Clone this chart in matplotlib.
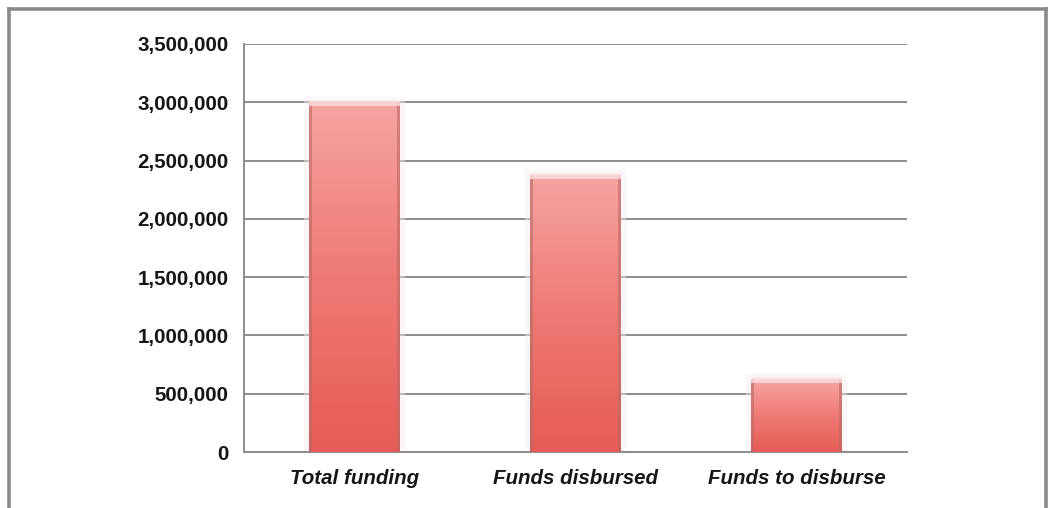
import numpy as np
import matplotlib.pyplot as plt
from matplotlib.colors import LinearSegmentedColormap
from matplotlib.lines import Line2D
from matplotlib.ticker import FuncFormatter

plt.rcParams['font.family'] = ['Liberation Sans', 'DejaVu Sans']

categories = ["Total funding", "Funds disbursed", "Funds to disburse"]
amounts = [3000000, 2375000, 625000]
y_ticks = [0, 500000, 1000000, 1500000, 2000000, 2500000, 3000000, 3500000]

fig = plt.figure(figsize=(10.49, 5.08), dpi=100)
ax = fig.add_axes([0.2326, 0.1102, 0.632, 0.8032])

# outer frame (open at the bottom)
fc = "#8a8a8a"
x0, x1, ytop = 8.5 / 1049, 1045.5 / 1049, 1 - 9 / 508
for xs, ys in [([x0, x0], [-0.1, ytop]), ([x0, x1], [ytop, ytop]), ([x1, x1], [ytop, -0.1])]:
    fig.add_artist(Line2D(xs, ys, transform=fig.transFigure, color=fc, lw=2.6))

ax.set_xlim(-0.5, len(categories) - 0.5)
ax.set_ylim(0, 3500000)
ax.set_yticks(y_ticks)
ax.yaxis.set_major_formatter(FuncFormatter(lambda v, p: f"{int(v):,}"))
ax.set_xticks(range(len(categories)))
ax.set_xticklabels(categories, fontstyle="italic")
for lab in ax.get_xticklabels() + ax.get_yticklabels():
    lab.set_fontweight("bold")
    lab.set_fontsize(14.8)
    lab.set_color("#161616")
ax.tick_params(axis="both", length=0)
ax.tick_params(axis="y", pad=11)
ax.tick_params(axis="x", pad=12)

ax.yaxis.grid(True, color="#8c8c8c", lw=1.4)
ax.set_axisbelow(True)
for side in ["top", "right"]:
    ax.spines[side].set_visible(False)
for side in ["left", "bottom"]:
    ax.spines[side].set_color("#8c8c8c")
    ax.spines[side].set_linewidth(1.4)

cmap = LinearSegmentedColormap.from_list("barfade", ["#e65b55", "#ef7a74", "#f6a4a2"])
grad = np.linspace(0, 1, 256).reshape(-1, 1)
w = 0.41
for i, v in enumerate(amounts):
    left, right = i - w / 2, i + w / 2
    # faint glow around the bar
    ax.fill_between([left - 0.025, right + 0.025], 0, v + 45000, color="#fbecec", alpha=0.45, zorder=2, lw=0)
    ax.imshow(grad, cmap=cmap, origin="lower", aspect="auto",
              extent=[left, right, 0, v], zorder=3, interpolation="bilinear")
    # darker side edges
    ax.fill_between([left, left + 0.013], 0, v, color="#b86a66", alpha=0.6, zorder=4, lw=0)
    ax.fill_between([right - 0.013, right], 0, v, color="#b86a66", alpha=0.6, zorder=4, lw=0)
    # light band at the top
    ax.fill_between([left, right], v - 30000, v + 15000, color="#fde3e2", alpha=0.75, zorder=4, lw=0)

ax.set_xlim(-0.5, len(categories) - 0.5)
ax.set_ylim(0, 3500000)

fig.savefig("out.png", dpi=100)
